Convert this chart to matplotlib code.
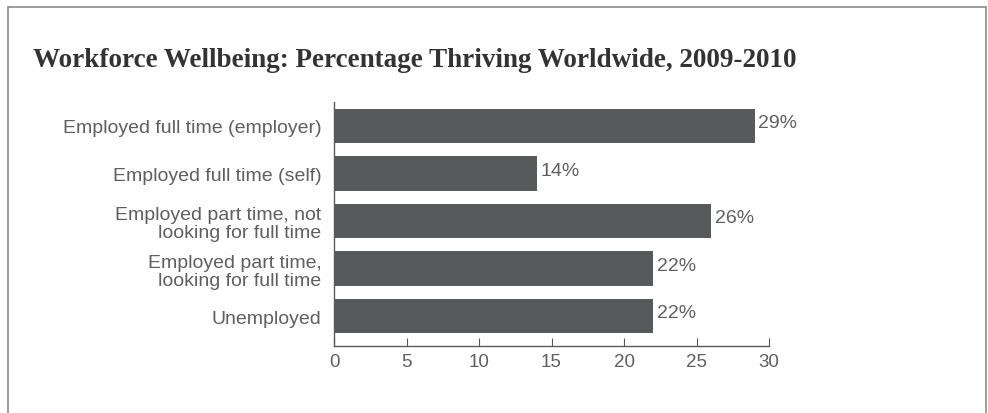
import matplotlib.pyplot as plt
from matplotlib.patches import Rectangle

categories = [
    "Employed full time (employer)",
    "Employed full time (self)",
    "Employed part time, not\nlooking for full time",
    "Employed part time,\nlooking for full time",
    "Unemployed",
]
values = [29, 14, 26, 22, 22]
ticks = [0, 5, 10, 15, 20, 25, 30]

bar_color = "#58595b"
text_color = "#5e5f61"

fig = plt.figure(figsize=(9.88, 4.14), dpi=100)
fig.patch.set_facecolor("white")

# light frame around the chart
fig.patches.append(Rectangle((8 / 988, -0.1), 978 / 988, 1.1 - 8 / 414,
                             transform=fig.transFigure, fill=False,
                             edgecolor="#8a8a8a", linewidth=1.2))

fig.text(33 / 988, 1 - 67 / 414,
         "Workforce Wellbeing: Percentage Thriving Worldwide, 2009-2010",
         fontsize=19.5, fontweight="bold", family="Liberation Serif",
         color="#333333", va="baseline")

ax = fig.add_axes([334 / 988, 1 - 347 / 414, 435 / 988, 244 / 414])
pos = list(range(len(categories)))
ax.barh(pos, values, height=0.72, color=bar_color)
for p, v in zip(pos, values):
    ax.text(v + 0.25, p - 0.07, f"{v}%", va="center", ha="left",
            fontsize=14, color=text_color, family="Liberation Sans")

ax.set_xlim(0, 30)
ax.set_ylim(4.63, -0.505)
ax.set_yticks(pos)
ax.set_yticklabels(categories, fontsize=14, color=text_color,
                   family="Liberation Sans", ha="right", linespacing=1.1)
ax.set_xticks(ticks)
ax.set_xticklabels([str(t) for t in ticks], fontsize=13.5, color=text_color,
                   family="Liberation Sans")
ax.tick_params(axis="y", length=0, pad=9)
ax.tick_params(axis="x", direction="in", length=6, color="#58595b", pad=5)
for side in ["top", "right"]:
    ax.spines[side].set_visible(False)
ax.spines["left"].set_color("#58595b")
ax.spines["bottom"].set_color("#58595b")
ax.spines["left"].set_linewidth(1.0)
ax.spines["bottom"].set_linewidth(1.0)

fig.savefig("out.png", dpi=100)
